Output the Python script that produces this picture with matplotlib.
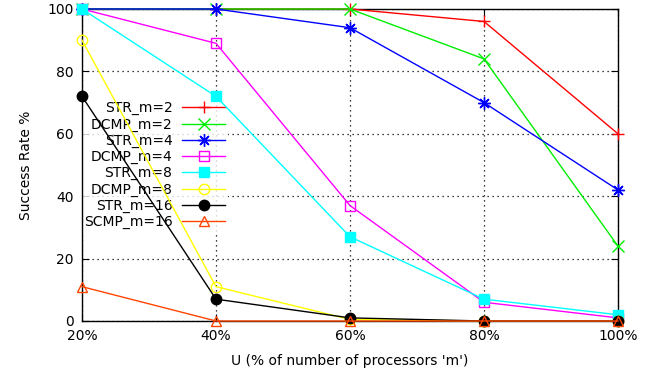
import matplotlib
matplotlib.use("Agg")
import matplotlib.pyplot as plt

# utilisation levels (% of number of processors)
u_levels = [20, 40, 60, 80, 100]
u_labels = ['20%', '40%', '60%', '80%', '100%']

str_m2 = [100, 100, 100, 96, 60]
dcmp_m2 = [100, 100, 100, 84, 24]
str_m4 = [100, 100, 94, 70, 42]
dcmp_m4 = [100, 89, 37, 6, 1]
str_m8 = [100, 72, 27, 7, 2]
dcmp_m8 = [90, 11, 0.5, 0, 0]
str_m16 = [72, 7, 1, 0, 0]
scmp_m16 = [11, 0, 0, 0, 0]

series = [
    ('STR_m=2', str_m2, '#ff0000', '+', 'full'),
    ('DCMP_m=2', dcmp_m2, '#00ee00', 'x', 'full'),
    ('STR_m=4', str_m4, '#0000ff', (8, 2, 0), 'full'),
    ('DCMP_m=4', dcmp_m4, '#ff00ff', 's', 'none'),
    ('STR_m=8', str_m8, '#00ffff', 's', 'full'),
    ('DCMP_m=8', dcmp_m8, '#ffff00', 'o', 'none'),
    ('STR_m=16', str_m16, '#000000', 'o', 'full'),
    ('SCMP_m=16', scmp_m16, '#ff4500', '^', 'none'),
]

plt.rcParams['font.family'] = 'DejaVu Sans'
plt.rcParams['font.size'] = 10

fig = plt.figure(figsize=(6.57, 3.78), dpi=100)
ax = fig.add_axes([0.1248, 0.1508, 0.8158, 0.8254])

for i, (name, vals, col, mk, fs) in enumerate(series):
    ms = 9 if mk in ('+', 'x') or isinstance(mk, tuple) else 7.5
    ax.plot(u_levels, vals, color=col, lw=1.0, marker=mk, markersize=ms,
            fillstyle=fs, markeredgewidth=1.0, label=name, clip_on=False,
            zorder=3 + i * 0.1)

ax.set_xlim(20, 100)
ax.set_ylim(0, 100)
ax.set_xticks(u_levels)
ax.set_xticklabels(u_labels)
ax.set_yticks([0, 20, 40, 60, 80, 100])
ax.tick_params(direction='in', length=5, top=True, right=True, pad=6)
ax.grid(True, color='black', linestyle=(0, (1, 3)), linewidth=0.9, zorder=1)
ax.set_axisbelow(True)
for sp in ax.spines.values():
    sp.set_linewidth(1.0)

ax.set_xlabel("U (% of number of processors 'm')", labelpad=8)
ax.set_ylabel('Success Rate %', labelpad=10)

leg = ax.legend(loc='center right', bbox_to_anchor=(0.347, 0.563),
                bbox_transform=fig.transFigure, borderaxespad=0,
                markerfirst=False, frameon=True, fancybox=False,
                handlelength=3.1, handletextpad=0.7, labelspacing=0.15,
                borderpad=0.2)
leg.get_frame().set_edgecolor('none')
leg.get_frame().set_facecolor('white')
leg.set_zorder(2)

plt.savefig('out.png', dpi=100)
